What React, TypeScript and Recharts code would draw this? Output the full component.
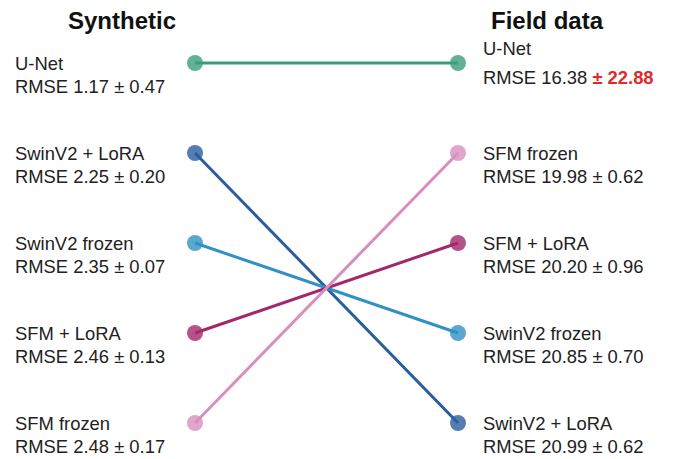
import React from 'react';
import { LineChart, Line, XAxis, YAxis } from 'recharts';

// Models and their RMSE on the two datasets
const models = ['U-Net', 'SwinV2 + LoRA', 'SwinV2 frozen', 'SFM + LoRA', 'SFM frozen'];
const syntheticMean = [1.17, 2.25, 2.35, 2.46, 2.48];
const syntheticStd = [0.47, 0.2, 0.07, 0.13, 0.17];
const fieldMean = [16.38, 20.99, 20.85, 20.2, 19.98];
const fieldStd = [22.88, 0.62, 0.7, 0.96, 0.62];
const colors = ['#3b9e7a', '#2b5c9e', '#3291c4', '#a3286b', '#d88fbd'];

const W = 674;
const H = 459;
const FONT = '"Liberation Sans", Arial, sans-serif';

const rankOf = (vals: number[], i: number) =>
  [...vals].sort((a, b) => a - b).indexOf(vals[i]) + 1;

const seriesFor = (i: number) => [
  { x: 0, rank: rankOf(syntheticMean, i) },
  { x: 1, rank: rankOf(fieldMean, i) },
];

export default function App() {
  const renderDot = (i: number) => (props: any) => {
    const { cx, cy, index } = props;
    const left = index === 0;
    const mean = left ? syntheticMean[i] : fieldMean[i];
    const std = left ? syntheticStd[i] : fieldStd[i];
    // highlight the unusually large spread
    const bigStd = !left && std > 5;
    const tx = left ? cx - 180 : cx + 25;
    const nameY = bigStd ? cy - 15 : cy;
    const valY = bigStd ? cy + 14 : cy + 23;
    return (
      <g key={`dot-${i}-${index}`}>
        <circle cx={cx} cy={cy} r={8} fill={colors[i]} fillOpacity={0.8} />
        <text x={tx} y={nameY} dominantBaseline="central" fontSize={18.4} fill="#222" fontFamily={FONT}>
          {models[i]}
        </text>
        <text x={tx} y={valY} dominantBaseline="central" fontSize={18.4} fill="#222" fontFamily={FONT}>
          {`RMSE ${mean.toFixed(2)} `}
          <tspan fill={bigStd ? '#e02b2b' : '#222'} fontWeight={bigStd ? 'bold' : 'normal'}>
            {`± ${std.toFixed(2)}`}
          </tspan>
        </text>
      </g>
    );
  };

  return (
    <div style={{ position: 'absolute', left: 0, top: 0, width: W, height: H, background: '#fff' }}>
      <LineChart width={W} height={H} margin={{ top: 63, right: 216, left: 195, bottom: 36 }}>
        <XAxis type="number" dataKey="x" domain={[0, 1]} hide />
        <YAxis type="number" domain={[1, 5]} reversed hide />
        {models.map((m, i) => (
          <Line
            key={m}
            data={seriesFor(i)}
            dataKey="rank"
            stroke={colors[i]}
            strokeWidth={3}
            dot={renderDot(i)}
            activeDot={false}
            isAnimationActive={false}
          />
        ))}
        <text x={122} y={29} textAnchor="middle" fontSize={24} fontWeight="bold" fill="#111" fontFamily={FONT}>
          Synthetic
        </text>
        <text x={547} y={29} textAnchor="middle" fontSize={24} fontWeight="bold" fill="#111" fontFamily={FONT}>
          Field data
        </text>
      </LineChart>
    </div>
  );
}
